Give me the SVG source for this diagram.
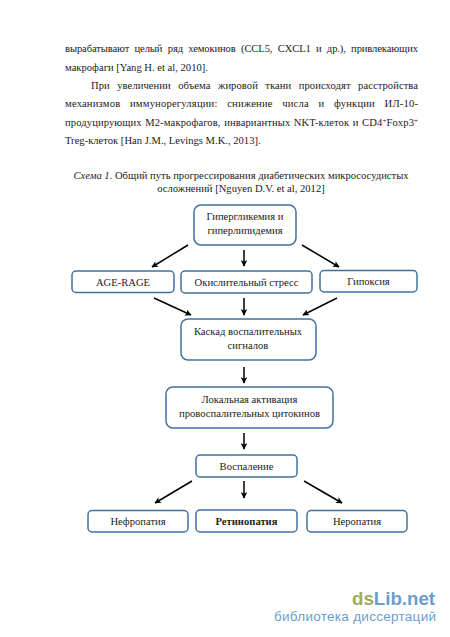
<svg xmlns="http://www.w3.org/2000/svg" width="450" height="637" viewBox="0 0 450 637">
<style>
text{font-family:"Liberation Serif","Times New Roman",serif;font-size:10.6px;fill:#222}
.b rect{fill:#fff;stroke:#41719c;stroke-width:1.5}
.b text{text-anchor:middle}
.c{text-anchor:middle}
#connectors line{stroke:#000;stroke-width:1.5;marker-end:url(#a)}
</style>
<defs><marker id="a" viewBox="0 0 10 10" refX="9" refY="5" markerWidth="6.500" markerHeight="6.500" orient="auto" markerUnits="userSpaceOnUse"><path d="M0 0L10 5L0 10L2.500 5Z" fill="#000"/></marker></defs>
<rect width="450" height="637" fill="#fff"/>
<g id="body">
<text x="65" y="52" word-spacing="2.800" textLength="353">вырабатывают целый ряд хемокинов (CCL5, CXCL1 и др.), привлекающих</text>
<text x="65" y="71">макрофаги [Yang H. et al, 2010].</text>
<text x="91" y="89" word-spacing="4.800" textLength="327">При увеличении объема жировой ткани происходят расстройства</text>
<text x="65" y="107" word-spacing="6.800" textLength="353">механизмов иммунорегуляции: снижение числа и функции ИЛ-10-</text>
<text x="65" y="126" word-spacing="0.800" textLength="353">продуцирующих М2-макрофагов, инвариантных NKT-клеток и CD4<tspan font-size="7" dy="-3">+</tspan><tspan dy="3">Foxp3</tspan><tspan font-size="7" dy="-3">+</tspan></text>
<text x="65" y="144">Treg-клеток [Han J.M., Levings M.K., 2013].</text>
<text class="c" x="241" y="179"><tspan font-style="italic">Схема 1.</tspan> Общий путь прогрессирования диабетических микрососудистых</text>
<text class="c" x="241" y="192">осложнений [Nguyen D.V. et al, 2012]</text>
</g>
<g id="connectors">
<line x1="188" y1="245" x2="152" y2="267"/>
<line x1="244" y1="250" x2="244" y2="266"/>
<line x1="302" y1="245" x2="339" y2="267"/>
<line x1="154" y1="298" x2="191" y2="315"/>
<line x1="244" y1="298" x2="244" y2="315"/>
<line x1="337" y1="298" x2="303" y2="315"/>
<line x1="244" y1="367" x2="244" y2="383"/>
<line x1="244" y1="433" x2="244" y2="449"/>
<line x1="192" y1="481" x2="155" y2="503"/>
<line x1="244" y1="481" x2="244" y2="498"/>
<line x1="304" y1="481" x2="342" y2="503"/>
</g>
<g id="n1" class="b"><rect x="194" y="205" width="102" height="40" rx="7"/><text x="245" y="220">Гипергликемия и</text><text x="245" y="234">гиперлипидемия</text></g>
<g id="n2" class="b"><rect x="72" y="271" width="102" height="21.500" rx="4"/><text x="123" y="286">AGE-RAGE</text></g>
<g id="n3" class="b"><rect x="181" y="271" width="131" height="22" rx="4"/><text x="246.500" y="286">Окислительный стресс</text></g>
<g id="n4" class="b"><rect x="320" y="270.500" width="97" height="21.500" rx="4"/><text x="368.500" y="285">Гипоксия</text></g>
<g id="n5" class="b"><rect x="181" y="319" width="135" height="41" rx="7"/><text x="248" y="335">Каскад воспалительных</text><text x="248" y="349">сигналов</text></g>
<g id="n6" class="b"><rect x="166" y="387" width="167" height="41" rx="7"/><text x="249.500" y="403">Локальная активация</text><text x="249.500" y="417">провоспалительных цитокинов</text></g>
<g id="n7" class="b"><rect x="196" y="455" width="101" height="22" rx="4"/><text x="246.500" y="470">Воспаление</text></g>
<g id="n8" class="b"><rect x="88" y="510.500" width="100" height="21.500" rx="4"/><text x="138" y="525">Нефропатия</text></g>
<g id="n9" class="b"><rect x="196" y="510" width="101" height="22" rx="4"/><text x="246.500" y="524.500" font-weight="bold">Ретинопатия</text></g>
<g id="n10" class="b"><rect x="307" y="510.500" width="100" height="21.500" rx="4"/><text x="357" y="525">Неропатия</text></g>
<g id="wm">
<text x="352" y="605" style="font-size:18.700px;font-weight:bold;fill:#6d9dc9;font-family:'Liberation Sans',Arial,sans-serif"><tspan style="fill:#9cad5c">ds</tspan>Lib.net</text>
<text x="274" y="621" style="font-size:13.500px;fill:#6d9dc9;font-family:'Liberation Sans',Arial,sans-serif" textLength="162">библиотека диссертаций</text>
</g>
</svg>
